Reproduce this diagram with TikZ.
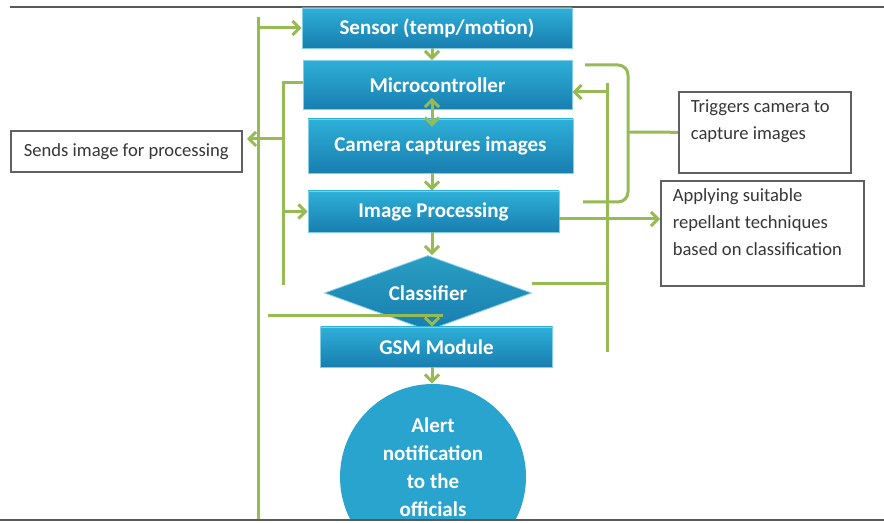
\documentclass[tikz,border=0pt]{standalone}
\usepackage{fontspec}
\setmainfont{Carlito}
\usetikzlibrary{positioning,shapes.geometric,arrows.meta,calc}
\definecolor{gLine}{RGB}{150,186,84}
\definecolor{bTop}{RGB}{46,176,216}
\definecolor{bBot}{RGB}{24,126,176}
\definecolor{bEdge}{RGB}{130,205,232}
\definecolor{nTxt}{RGB}{55,55,55}

\begin{document}
\begin{tikzpicture}[x=0.5pt,y=-0.5pt,font=\fontsize{9.3}{13.5}\selectfont,
   blk/.style={rectangle,draw=bEdge,line width=0.4pt,top color=bTop,bottom color=bBot,
     text=white,font=\fontsize{10.5}{13.5}\selectfont\bfseries,inner sep=0pt},
   note/.style={rectangle,draw=gray!75!black,line width=0.8pt,fill=white,text=nTxt,
     anchor=north west,inner xsep=6pt,inner ysep=4pt,align=left},
   gl/.style={draw=gLine,line width=1.5pt},
   ga/.style={gl,-{Straight Barb[length=3.5pt,width=7pt,line width=1.5pt]}},
   gb/.style={gl,{Straight Barb[length=3.5pt,width=7pt,line width=1.5pt]}-{Straight Barb[length=3.5pt,width=7pt,line width=1.5pt]}}]
\useasboundingbox (0,0) rectangle (884,523);
%% ---- frame lines ----
\draw[gray!70!black,line width=1pt] (10,7) -- (884,7);
%% ---- flow blocks ----
\node[blk,minimum width=135pt,minimum height=20pt] (sensor) at (437,28) {Sensor (temp/motion)};
\node[blk,minimum width=134.5pt,minimum height=24.5pt] (mc) at (437.5,85) {Microcontroller};
\node[blk,minimum width=132.5pt,minimum height=27pt] (cam) at (440.5,146) {Camera captures images};
\node[blk,minimum width=125.5pt,minimum height=20.5pt] (ip) at (433.5,211.5) {Image Processing};
\node[shape=diamond,draw=bEdge,line width=0.4pt,top color=bTop!90!black,bottom color=bBot,
   text=white,font=\fontsize{10.5}{13.5}\selectfont\bfseries,inner sep=0pt,aspect=2.76,
   minimum width=103.5pt,minimum height=37.5pt] (cls) at (428,293) {Classifier};
\node[blk,minimum width=116pt,minimum height=20pt] (gsm) at (436.5,347) {GSM Module};
\begin{scope}
  \clip (0,0) rectangle (884,520);
  \node[circle,fill=bTop!75!bBot,minimum size=93pt,inner sep=0pt] (alert) at (433,477) {};
  \node[text=white,font=\fontsize{10.5}{14}\selectfont\bfseries,align=center,inner sep=0pt]
     (alertTxt) at ([yshift=5pt]alert.center) {Alert\\notification\\to the\\officials};
\end{scope}
%% ---- side notes ----
\node[note,minimum width=115.5pt,minimum height=20.5pt,anchor=west] (send) at (10,151.5)
   {Sends image for processing};
\node[note] (trig) at (678,91) {\parbox[t][32.5pt][t]{74pt}{Triggers camera to\\capture images}};
\node[note] (rep) at (660,180) {\parbox[t][44.5pt][t]{89.5pt}{Applying suitable\\repellant techniques\\based on classification}};
%% ---- main flow arrows ----
\draw[ga] (sensor.south -| 432,0) -- (mc.north -| 432,0);
\draw[gb] ([yshift=6pt]mc.south -| 432,0) -- ([yshift=-4pt]cam.north -| 432,0);
\draw[ga] (cam.south -| 432,0) -- (ip.north -| 432,0);
\draw[ga] (ip.south -| 432,0) -- (cls.north -| 432,0);
\draw[ga] ([yshift=4pt]cls.south -| 432,0) -- (gsm.north -| 432,0);
\draw[ga] (gsm.south -| 432,0) -- (alert.north -| 432,0);
%% ---- left feedback lines ----
\coordinate (Ltop) at (258,17);
\coordinate (Lbot) at (258,520);
\draw[gl] (Ltop) -- (Lbot);
\draw[ga] (Ltop |- sensor.west) -- (sensor.west);
\coordinate (iTop) at (283,83);
\coordinate (iBot) at (283,285);
\draw[gl] (iBot) -- (iTop) -- (iTop -| mc.west);
\draw[ga] (iTop |- 0,139) -- (247,139);
\draw[ga] (iTop |- ip.west) -- (ip.west);
\coordinate (gsmL) at (268,316);
\coordinate (gsmR) at (443,316);
\draw[gl] (gsmL) -- (gsmR);
%% ---- right feedback lines ----
\coordinate (rTop) at (607,83);
\coordinate (rBot) at (607,352);
\draw[gl] (rTop) -- (rBot);
\draw[ga] (rTop |- 0,92) -- (mc.east |- 0,92);
\coordinate (clsR) at (532,284);
\draw[gl] (clsR) -- (clsR -| rBot);
\draw[ga] (ip.east |- 0,219) -- (rep.west |- 0,219);
%% brace towards the trigger note
\coordinate (bTop) at (585,65);
\coordinate (bBot) at (583,202);
\coordinate (bTip) at (628,132);
\draw[gl,rounded corners=5pt] (bTop) -| (bTip);
\draw[gl,rounded corners=5pt] (bBot) -| (bTip);
\draw[gl] (bTip) -- (trig.west);
\draw[gray!70!black,line width=1pt] (0,520) -- (884,520);
\end{tikzpicture}
\end{document}
